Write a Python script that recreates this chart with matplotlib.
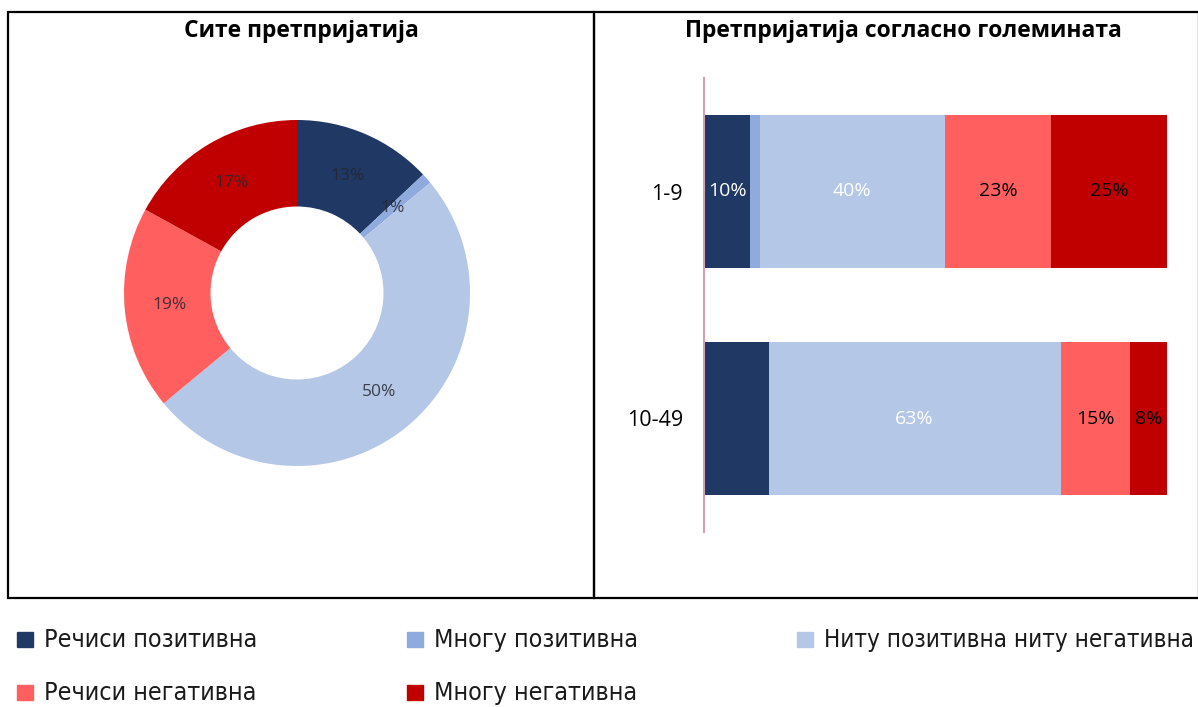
import numpy as np
import matplotlib.pyplot as plt
from matplotlib import font_manager as fm
from matplotlib.patches import Rectangle

# legend / series
labels = ['Речиси позитивна', 'Многу позитивна', 'Ниту позитивна ниту негативна',
          'Речиси негативна', 'Многу негативна']
colors = ['#1f3864', '#8faadc', '#b4c7e7', '#ff5f5f', '#c00000']

# donut - all enterprises
pie_vals = [13, 1, 50, 19, 17]

# bars - by size
sizes = ['1-9', '10-49']
bar_vals = [[10, 14],   # Речиси позитивна
            [2, 0],     # Многу позитивна
            [40, 63],   # Ниту ... ниту
            [23, 15],   # Речиси негативна
            [25, 8]]    # Многу негативна
bar_text = [['10%', ''], ['', ''], ['40%', '63%'], ['23%', '15%'], ['25%', '8%']]
text_col = ['white', 'white', 'white', 'black', 'black']

# narrow font for the legend if there is one
cond = [f for f in fm.fontManager.ttflist
        if f.name == 'DejaVu Sans' and 'condensed' in str(f.stretch)]
if cond:
    leg_font = dict(family='DejaVu Sans', stretch='condensed', fontsize=18)
else:
    leg_font = dict(family='Liberation Sans', fontsize=17)

W, H = 1198, 707
fig = plt.figure(figsize=(W / 100, H / 100), dpi=100)

def fx(px):
    return px / W

def fy(py):
    return 1 - py / H

# panel boxes
for x0, x1 in [(8, 594), (594, 1199)]:
    fig.patches.append(Rectangle((fx(x0), fy(598)), fx(x1 - x0), (598 - 12) / H,
                                 transform=fig.transFigure, fill=False,
                                 edgecolor='black', linewidth=1.6))

fig.text(fx(301), fy(31), 'Сите претпријатија', ha='center', va='center',
         fontsize=16.5, fontweight='bold', family='Open Sans')
fig.text(fx(903), fy(31), 'Претпријатија согласно големината', ha='center', va='center',
         fontsize=16.5, fontweight='bold', family='Open Sans')

# donut
cx, cy, r = 297, 293, 173
ax1 = fig.add_axes([fx(cx - r), fy(cy + r), fx(2 * r), 2 * r / H])
wedges, _ = ax1.pie(pie_vals, colors=colors, startangle=90, counterclock=False,
                    radius=1, wedgeprops=dict(width=0.5, linewidth=0))
cum = np.cumsum([0] + pie_vals)
for i, v in enumerate(pie_vals):
    ang = np.deg2rad(90 - (cum[i] + v / 2) / sum(pie_vals) * 360)
    ax1.text(0.74 * np.cos(ang), 0.74 * np.sin(ang), f'{v}%', ha='center', va='center',
             fontsize=12.5, color='#262630', alpha=0.85, family='Open Sans')
ax1.set_xlim(-1, 1)
ax1.set_ylim(-1, 1)
ax1.set_aspect('equal')
ax1.axis('off')

# stacked bars
ax2 = fig.add_axes([fx(704), fy(532), fx(463), (532 - 78) / H])
ypos = [1, 0]
left = np.zeros(len(sizes))
for i, vals in enumerate(bar_vals):
    ax2.barh(ypos, vals, left=left, height=0.67, color=colors[i], linewidth=0)
    for j, v in enumerate(vals):
        if bar_text[i][j]:
            ax2.text(left[j] + v / 2, ypos[j], bar_text[i][j], ha='center', va='center',
                     fontsize=14, color=text_col[i], family='Open Sans')
    left += np.array(vals)
ax2.set_xlim(0, 100)
ax2.set_ylim(-0.5, 1.5)
for s in ['top', 'right', 'bottom']:
    ax2.spines[s].set_visible(False)
ax2.spines['left'].set_color('#d4a0b4')
ax2.spines['left'].set_linewidth(1.5)
ax2.set_xticks([])
ax2.set_yticks(ypos)
ax2.set_yticklabels(sizes, fontsize=15.5, family='Open Sans')
ax2.tick_params(axis='y', length=0, pad=15)

# legend
leg_pos = [(17, 639), (407, 639), (797, 639), (17, 692), (407, 692)]
renderer = fig.canvas.get_renderer()
for (lx, ly), lab, c in zip(leg_pos, labels, colors):
    fig.patches.append(Rectangle((fx(lx), fy(ly + 7.5)), fx(16), 15 / H,
                                 transform=fig.transFigure, color=c))
    t = fig.text(fx(lx + 27), fy(ly + 1), lab, ha='left', va='center', color='#1a1a1a', **leg_font)
    # shrink the long one so it stays inside the picture
    bb = t.get_window_extent(renderer)
    if bb.x1 > W - 6:
        t.set_fontsize(leg_font['fontsize'] * (W - 6 - bb.x0) / bb.width)

fig.savefig('out.png', dpi=100)
